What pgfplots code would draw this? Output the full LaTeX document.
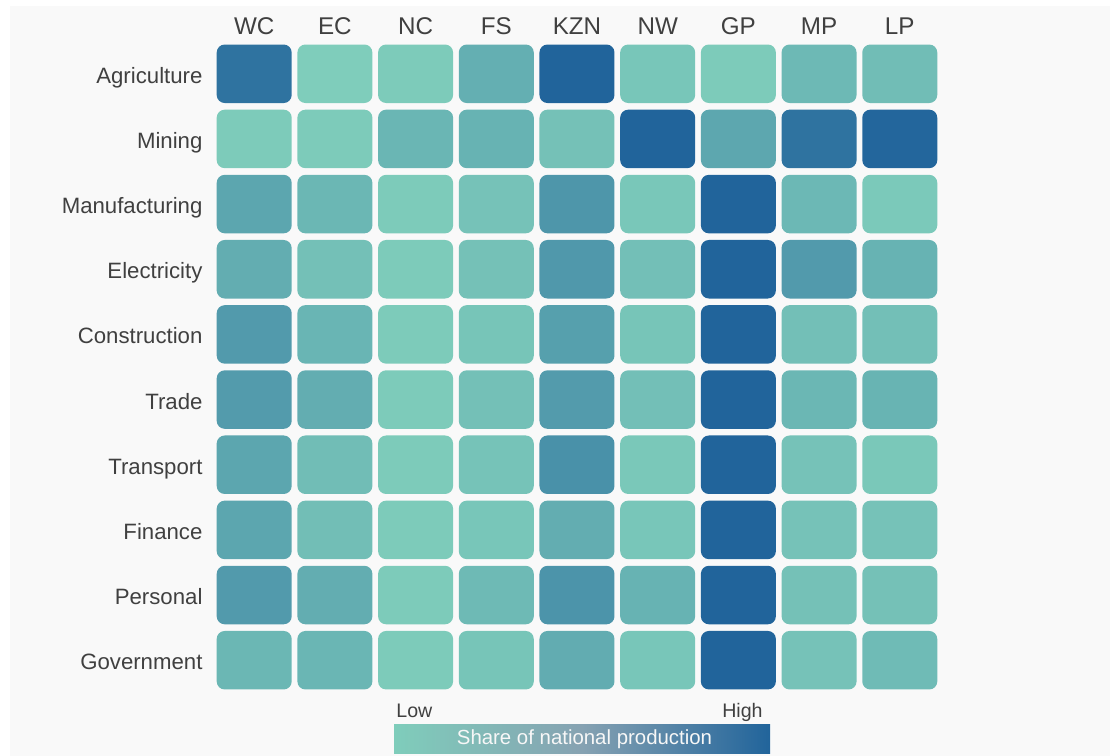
\documentclass[border=0pt]{standalone}
\usepackage{fontspec}
\setmainfont{Liberation Sans}
\usepackage{pgfplots}
\usepackage{pgfplotstable}
\pgfplotsset{compat=1.18}
\definecolor{bg}{HTML}{F9F9F9}
\definecolor{txt}{HTML}{404040}
\definecolor{lowc}{RGB}{127,205,187}
\definecolor{midc}{RGB}{134,162,178}
\definecolor{highc}{RGB}{33,100,155}
\pgfdeclarehorizontalshading{cbar}{100bp}{color(0bp)=(lowc); color(25bp)=(lowc); color(50bp)=(midc); color(75bp)=(highc); color(100bp)=(highc)}
\pgfdeclareplotmark{rtile}{%
  \pgfsetcornersarced{\pgfpoint{4pt}{4pt}}%
  \pgfpathmoveto{\pgfpoint{0pt}{-14.625pt}}%
  \pgfpathlineto{\pgfpoint{18.75pt}{-14.625pt}}%
  \pgfpathlineto{\pgfpoint{18.75pt}{14.625pt}}%
  \pgfpathlineto{\pgfpoint{-18.75pt}{14.625pt}}%
  \pgfpathlineto{\pgfpoint{-18.75pt}{-14.625pt}}%
  \pgfpathclose
  \pgfusepath{fill}}
% x: 0 WC,1 EC,2 NC,3 FS,4 KZN,5 NW,6 GP,7 MP,8 LP ; y: 9 Agriculture ... 0 Government
\pgfplotstableread{
x y v
0 9 0.85
1 9 0.00
2 9 0.02
3 9 0.28
4 9 1.00
5 9 0.07
6 9 0.02
7 9 0.19
8 9 0.15
0 8 0.02
1 8 0.02
2 8 0.22
3 8 0.25
4 8 0.11
5 8 1.00
6 8 0.36
7 8 0.85
8 8 0.97
0 7 0.37
1 7 0.21
2 7 0.02
3 7 0.10
4 7 0.52
5 7 0.06
6 7 1.00
7 7 0.20
8 7 0.04
0 6 0.30
1 6 0.12
2 6 0.02
3 6 0.11
4 6 0.50
5 6 0.13
6 6 1.00
7 6 0.48
8 6 0.25
0 5 0.48
1 5 0.23
2 5 0.02
3 5 0.08
4 5 0.43
5 5 0.08
6 5 1.00
7 5 0.13
8 5 0.13
0 4 0.47
1 4 0.30
2 4 0.02
3 4 0.12
4 4 0.47
5 4 0.13
6 4 1.00
7 4 0.21
8 4 0.24
0 3 0.37
1 3 0.15
2 3 0.02
3 3 0.09
4 3 0.57
5 3 0.05
6 3 1.00
7 3 0.10
8 3 0.05
0 2 0.37
1 2 0.14
2 2 0.02
3 2 0.07
4 2 0.30
5 2 0.07
6 2 1.00
7 2 0.10
8 2 0.10
0 1 0.48
1 1 0.30
2 1 0.02
3 1 0.18
4 1 0.54
5 1 0.25
6 1 1.00
7 1 0.11
8 1 0.11
0 0 0.21
1 0 0.22
2 0 0.02
3 0 0.08
4 0 0.31
5 0 0.07
6 0 1.00
7 0 0.10
8 0 0.17
}\heat
\begin{document}
\begin{tikzpicture}[x=1pt,y=1pt]
\fill[white] (0,0) rectangle (555,378);
\fill[bg] (5,0) rectangle (555,375);
\begin{axis}[
  at={(106.925pt,31.6pt)}, anchor=south west,
  scale only axis, width=363.15pt, height=325.8pt,
  xmin=-0.5, xmax=8.5, ymin=-0.5, ymax=9.5,
  axis line style={draw=none}, tick style={draw=none}, major tick length=0pt,
  xtick={0,...,8}, xticklabels={WC,EC,NC,FS,KZN,NW,GP,MP,LP},
  xticklabel pos=upper,
  xticklabel style={anchor=base, inner sep=0pt, yshift=3.1pt, font=\fontsize{12.1}{14}\selectfont, text=txt},
  ytick={0,...,9},
  yticklabels={Government,Personal,Finance,Transport,Trade,Construction,Electricity,Manufacturing,Mining,Agriculture},
  yticklabel style={anchor=base east, inner sep=0pt, xshift=-5.5pt, yshift=-4.75pt, font=\fontsize{11.1}{13}\selectfont, text=txt},
  colormap={prov}{rgb255=(127,205,187) rgb255=(33,100,155)},
  point meta min=0, point meta max=1,
  clip=false,
]
\addplot[scatter, only marks, mark=rtile, point meta=explicit] table[x=x, y=y, meta=v] {\heat};
\end{axis}
\shade[shading=cbar] (197,1) rectangle (385,15.5);
\node[anchor=base, inner sep=0pt, text=white!94!gray, font=\fontsize{10.2}{12}\selectfont] at (292.25,5.5) {Share of national production};
\node[anchor=base west, inner sep=0pt, text=txt, font=\fontsize{9.8}{12}\selectfont] at (198,19.35) {Low};
\node[anchor=base east, inner sep=0pt, text=txt, font=\fontsize{9.8}{12}\selectfont] at (381.5,19.35) {High};
\end{tikzpicture}
\end{document}
